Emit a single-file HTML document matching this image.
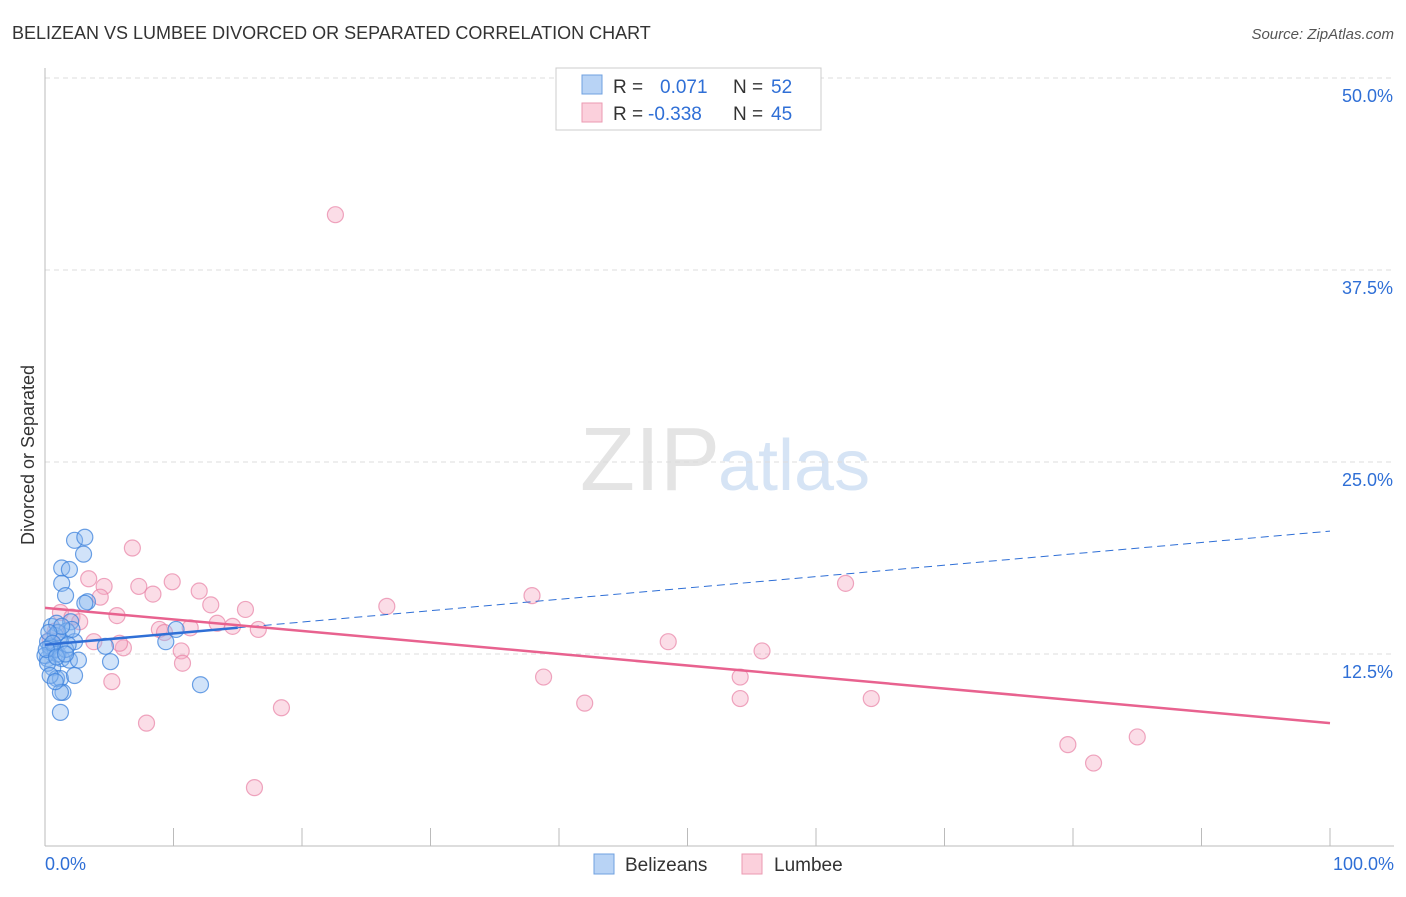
<!DOCTYPE html>
<html><head><meta charset="utf-8"><style>
body{margin:0;background:#fff;font-family:"Liberation Sans",sans-serif}
svg text{font-family:"Liberation Sans",sans-serif}
</style></head><body>
<svg id="c" width="1406" height="892">
<text x="12" y="39" font-size="18" fill="#333">BELIZEAN VS LUMBEE DIVORCED OR SEPARATED CORRELATION CHART</text>
<text x="1394" y="39" font-size="15" fill="#555" font-style="italic" text-anchor="end">Source: ZipAtlas.com</text>
<text x="720" y="490" font-size="90" fill="#e4e4e4" text-anchor="end" font-family="Liberation Serif">ZIP</text>
<text x="718" y="490" font-size="72" fill="#d6e4f5">atlas</text>
<text transform="translate(34,455) rotate(-90)" font-size="18" fill="#333" text-anchor="middle">Divorced or Separated</text>
<g id="grid"></g><g id="marks"></g>
<g>
<rect x="556" y="68" width="265" height="62" fill="#fff" stroke="#ccc"/>
<rect x="582" y="75" width="20" height="19" fill="#b8d3f5" stroke="#6fa0e0"/>
<rect x="582" y="103" width="20" height="19" fill="#fbd0dc" stroke="#eb9ab2"/>
<text x="613" y="93" font-size="19" fill="#333">R = </text><text x="660" y="93" font-size="19" fill="#2f6fd6">0.071</text>
<text x="733" y="93" font-size="19" fill="#333">N = </text><text x="771" y="93" font-size="19" fill="#2f6fd6">52</text>
<text x="613" y="120" font-size="19" fill="#333">R = </text><text x="648" y="120" font-size="19" fill="#2f6fd6">-0.338</text>
<text x="733" y="120" font-size="19" fill="#333">N = </text><text x="771" y="120" font-size="19" fill="#2f6fd6">45</text>
</g>
<g>
<rect x="594" y="854" width="20" height="20" fill="#b8d3f5" stroke="#6fa0e0"/>
<text x="625" y="871" font-size="19" fill="#333">Belizeans</text>
<rect x="742" y="854" width="20" height="20" fill="#fbd0dc" stroke="#eb9ab2"/>
<text x="774" y="871" font-size="19" fill="#333">Lumbee</text>
</g>
<text x="45" y="870" font-size="18" fill="#2f6fd6">0.0%</text>
<text x="1394" y="870" font-size="18" fill="#2f6fd6" text-anchor="end">100.0%</text>
</svg>
<script>
const yTicks=[12.5,25,37.5,50];
const yTickLabels=["12.5%","25.0%","37.5%","50.0%"];
const blueX=[2.3,3.1,3.0,1.3,1.9,1.3,1.6,3.3,3.1,0.5,0.9,2.0,1.7,0.8,2.3,1.2,0.4,0.5,0.2,1.3,1.9,2.6,4.7,5.1,0.6,0.9,1.2,2.3,1.4,1.2,1.2,10.2,9.4,12.1,0.4,0.2,0.8,1.0,0.0,0.2,0.4,0.8,1.6,1.8,2.1,1.0,1.3,0.3,0.6,0.1,0.9,1.6];
const blueY=[19.9,20.1,19.0,18.1,18.0,17.1,16.3,15.9,15.8,14.3,14.5,14.6,14.0,13.7,13.3,13.3,12.9,12.6,12.2,12.2,12.1,12.1,13.0,12.0,11.6,10.9,10.9,11.1,10.0,10.0,8.7,14.1,13.3,10.5,13.0,13.3,12.8,12.5,12.4,11.9,11.1,10.7,12.8,13.1,14.1,13.9,14.3,13.9,13.2,12.8,12.3,12.5];
const pinkX=[22.6,6.8,3.4,4.6,7.3,9.9,8.4,4.3,12.0,12.9,15.6,1.2,2.1,2.7,5.6,14.6,13.4,16.6,8.9,9.3,11.3,3.8,6.1,5.8,10.6,10.7,5.2,7.9,18.4,16.3,26.6,37.9,62.3,48.5,55.8,38.8,54.1,42.0,54.1,64.3,79.6,85.0,81.6,0.4,0.8];
const pinkY=[41.1,19.4,17.4,16.9,16.9,17.2,16.4,16.2,16.6,15.7,15.4,15.2,14.9,14.6,15.0,14.3,14.5,14.1,14.1,13.9,14.2,13.3,12.9,13.2,12.7,11.9,10.7,8.0,9.0,3.8,15.6,16.3,17.1,13.3,12.7,11.0,11.0,9.3,9.6,9.6,6.6,7.1,5.4,13.4,14.0];
const blueFit=[13.1,20.5];
const pinkFit=[15.5,8.0];
const NS="http://www.w3.org/2000/svg";
const X=v=>45+v*12.85, Y=v=>846-v*15.36;
const grid=document.getElementById('grid'), marks=document.getElementById('marks');
function mk(tag,attrs,parent){const e=document.createElementNS(NS,tag);for(const k in attrs)e.setAttribute(k,attrs[k]);parent.appendChild(e);return e;}
yTicks.forEach((t,i)=>{
 const l=mk('line',{x1:45,x2:1394,y1:Y(t),y2:Y(t),stroke:'#ddd','stroke-dasharray':'5,4'},grid);
 
 
 const tx=mk('text',{x:1393,y:Y(t)+24,'font-size':18,fill:'#2f6fd6','text-anchor':'end'},grid);
 tx.textContent=yTickLabels[i];
 
 
});
const ax=mk('line',{x1:45,x2:45,y1:68,y2:846,stroke:'#bbb'},grid);


const bx=mk('line',{x1:45,x2:1394,y1:846,y2:846,stroke:'#bbb'},grid);


for(let i=1;i<=10;i++){const t=mk('line',{x1:X(i*10),x2:X(i*10),y1:828,y2:846,stroke:'#bbb'},grid);
 
 }
pinkX.forEach((x,i)=>{const c=mk('circle',{cx:X(x),cy:Y(pinkY[i]),r:8,fill:'rgba(246,170,195,0.4)',stroke:'rgba(232,130,165,0.7)','stroke-width':1.2},marks);
 
 });
blueX.forEach((x,i)=>{const c=mk('circle',{cx:X(x),cy:Y(blueY[i]),r:8,fill:'rgba(140,185,240,0.4)',stroke:'rgba(60,130,220,0.75)','stroke-width':1.2},marks);
 
 });
const bAt=x=>blueFit[0]+(blueFit[1]-blueFit[0])*x/100;
const l1=mk('line',{x1:X(0),y1:Y(bAt(0)),x2:X(15),y2:Y(bAt(15)),stroke:'#2f6fd6','stroke-width':2.5},marks);


const l2=mk('line',{x1:X(15),y1:Y(bAt(15)),x2:X(100),y2:Y(bAt(100)),stroke:'#2f6fd6','stroke-width':1,'stroke-dasharray':'8,5'},marks);


const l3=mk('line',{x1:X(0),y1:Y(pinkFit[0]),x2:X(100),y2:Y(pinkFit[1]),stroke:'#e8628f','stroke-width':2.5},marks);


</script>
</body></html>
